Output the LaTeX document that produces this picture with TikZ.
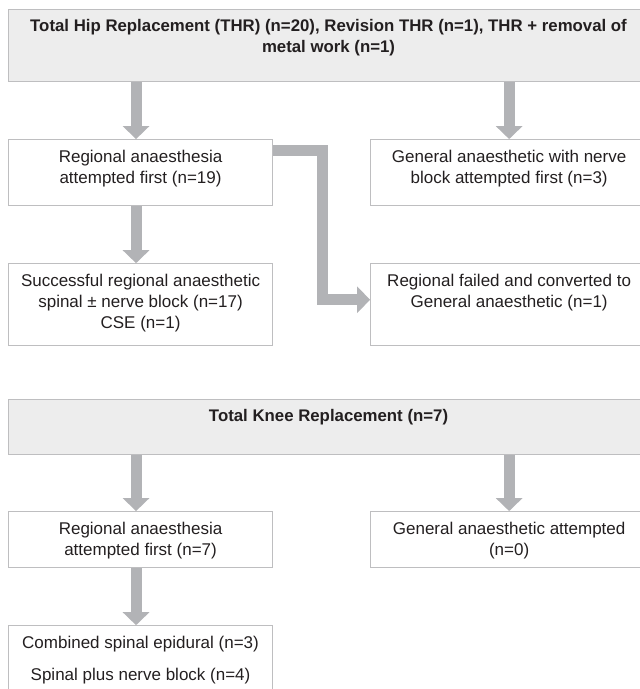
\documentclass[tikz,border=0pt]{standalone}
\usepackage{fontspec}
\setmainfont{Liberation Sans}
\usetikzlibrary{arrows.meta, positioning}

\definecolor{boxline}{RGB}{190,190,192}
\definecolor{headfill}{RGB}{237,237,237}
\definecolor{arrowgrey}{RGB}{178,179,182}
\definecolor{inkgrey}{RGB}{35,31,32}

\begin{document}
\begin{tikzpicture}[
        x=1pt, y=-1pt,
        every node/.style={draw=boxline, line width=1.1pt, rectangle, align=center,
            inner sep=0pt, text=inkgrey, font=\fontsize{17}{21}\selectfont},
        stage/.style={minimum width=264pt, minimum height=66pt},
        head/.style={fill=headfill, minimum width=640pt,
            font=\fontsize{16.8}{21}\selectfont\bfseries},
        flow/.style={draw=arrowgrey, line width=11pt,
            -{Triangle[width=26pt, length=13pt]}},
    ]
        \path[use as bounding box, clip] (0,0) rectangle (640,689);

        % hip replacement
        \node[head, minimum height=72pt, text depth=18.5pt, anchor=north west]
            (thr) at (8,9) {Total Hip Replacement (THR) (n=20), Revision THR (n=1), THR + removal of\\metal work (n=1)};
        \node[stage, text depth=12.5pt, below=57pt of thr.south west, anchor=north west] (ra1)
            {Regional anaesthesia\\attempted first (n=19)};
        \node[stage, text depth=12.5pt, right=97pt of ra1, minimum width=277pt] (ga1)
            {General anaesthetic with nerve\\block attempted first (n=3)};
        \node[stage, below=57pt of ra1, minimum height=82pt, text depth=7.5pt] (ok1)
            {Successful regional anaesthetic\\spinal ± nerve block (n=17)\\CSE (n=1)};
        \node[stage, below=57pt of ga1, minimum width=277pt, minimum height=82pt,
            text depth=28.5pt] (fail1)
            {Regional failed and converted to\\General anaesthetic (n=1)};

        \draw[flow] ([xshift=-4.5pt]ra1.north |- thr.south) -- ([xshift=-4.5pt]ra1.north);
        \draw[flow] (ga1.north |- thr.south) -- (ga1.north);
        \draw[flow] ([xshift=-4.5pt]ra1.south) -- ([xshift=-4.5pt]ok1.north);
        \draw[flow] ([yshift=-11.5pt]ra1.north east) -- ++(49.5,0)
            |- ([yshift=5pt]fail1.west);

        % knee replacement
        \node[head, minimum height=55pt, text depth=22.5pt, anchor=north west]
            (tkr) at (8,399) {Total Knee Replacement (n=7)};
        \node[stage, minimum height=56pt, text depth=2.5pt,
            below=56pt of tkr.south west, anchor=north west] (ra2)
            {Regional anaesthesia\\attempted first (n=7)};
        \node[stage, minimum height=56pt, text depth=2.5pt, right=97pt of ra2,
            minimum width=277pt] (ga2)
            {General anaesthetic attempted\\(n=0)};
        \node[stage, below=57pt of ra2, minimum height=80pt, text depth=15.5pt] (cse)
            {Combined spinal epidural (n=3)\\[11pt]Spinal plus nerve block (n=4)};

        \draw[flow] ([xshift=-4.5pt]ra2.north |- tkr.south) -- ([xshift=-4.5pt]ra2.north);
        \draw[flow] (ga2.north |- tkr.south) -- (ga2.north);
        \draw[flow] ([xshift=-4.5pt]ra2.south) -- ([xshift=-4.5pt]cse.north);
    \end{tikzpicture}
\end{document}
